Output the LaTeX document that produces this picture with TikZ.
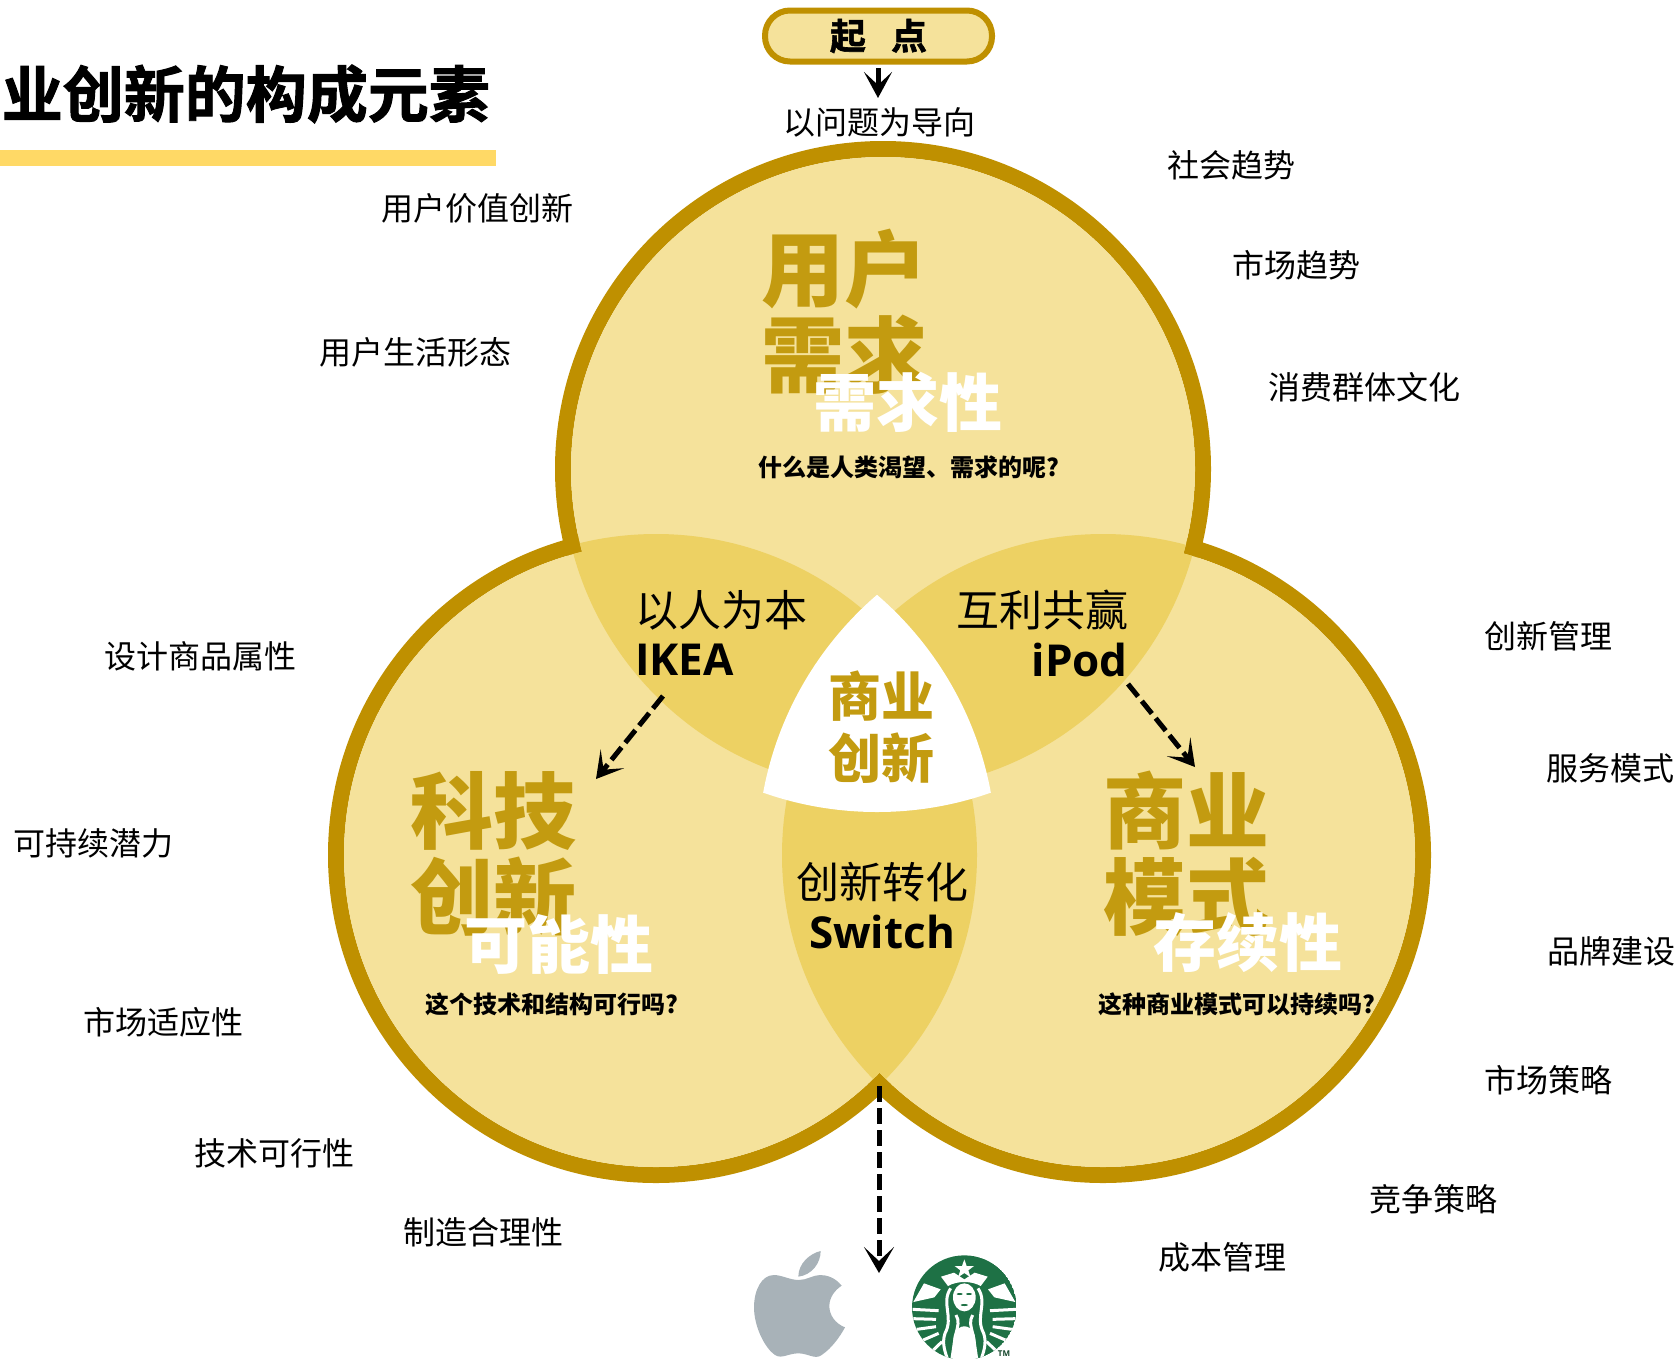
\documentclass[tikz,border=0pt]{standalone}
\usepackage{fontspec}
\usetikzlibrary{arrows.meta}
\setmainfont{Noto Sans CJK SC}
\newfontfamily\lat{Open Sans}
\newfontfamily\heavy[FakeBold=1.6]{Noto Sans CJK SC Bold}
\definecolor{ringc}{HTML}{BF9000}
\definecolor{fillc}{HTML}{F5E29B}
\definecolor{lensc}{HTML}{EDD163}
\definecolor{goldt}{HTML}{C39B10}
\definecolor{barc}{HTML}{FFD966}
\definecolor{applec}{HTML}{A8B2B8}
\definecolor{sbgreen}{HTML}{1E7145}
\newcommand{\fs}[1]{\fontsize{#1}{#1}\selectfont}
\newcommand{\sbhalf}{
  \fill[white] (640,246) -- (672,190) -- (722,208) -- (703,232) -- cycle;
  \draw[sbline] (752,205) .. controls (722,250) and (762,290) .. (735,340) .. controls (725,370) and (735,395) .. (745,425);
  \draw[sbline] (768,285) .. controls (790,320) and (745,350) .. (772,425);
  \draw[sbline] (638,268) -- (716,272);
  \draw[sbline] (640,296) -- (708,298);
  \draw[sbline] (650,328) -- (708,320);
  \draw[sbline] (670,360) -- (716,340);
  \draw[sbline] (695,395) -- (726,365);
}
\tikzset{
  lbl/.style={inner sep=0pt,font=\fs{32}},
  biggold/.style={inner sep=0pt,align=center,text=goldt,font=\bfseries\fontsize{83}{86}\selectfont},
  whitebig/.style={inner sep=0pt,text=white,font=\bfseries\fs{63}},
  captext/.style={inner sep=0pt,font=\bfseries\fs{24}},
  lenscn/.style={inner sep=0pt,font=\fs{43}},
  lenlat/.style={inner sep=0pt,font=\lat\bfseries\fs{44}},
  darrow/.style={line width=5pt,dash pattern=on 16pt off 6pt,-{Stealth[length=26pt,width=30pt,inset=14pt]}},
  sbline/.style={white,line width=3pt},
}
\begin{document}
\begin{tikzpicture}[x=1pt,y=-1pt]
\useasboundingbox (0,0) rectangle (1678,1358);
\clip (0,0) rectangle (1678,1358);
\coordinate (T) at (883,469);
\coordinate (L) at (656,855);
\coordinate (R) at (1103,855);
% title
\fill[barc] (0,150) rectangle (496,166);
\node[anchor=east,inner sep=0pt,font=\heavy\fs{61}] (title) at (490,94) {业创新的构成元素};
% circles
\draw[ringc,line width=16pt] (T) circle (320) (L) circle (320) (R) circle (320);
\fill[fillc] (T) circle (312) (L) circle (312) (R) circle (312);
% lenses
\begin{scope}
 \clip (T) circle (312) (L) circle (312);
 \clip (T) circle (321);
 \fill[lensc] (L) circle (321);
\end{scope}
\begin{scope}
 \clip (T) circle (312) (R) circle (312);
 \clip (T) circle (321);
 \fill[lensc] (R) circle (321);
\end{scope}
\begin{scope}
 \clip (L) circle (312) (R) circle (312);
 \clip (L) circle (321);
 \fill[lensc] (R) circle (321);
\end{scope}
% centre
\begin{scope}
 \clip (877,469) circle (343);
 \clip (653.5,855) circle (343);
 \fill[white] (1100.5,855) circle (343);
\end{scope}
% start pill
\node[draw=ringc,fill=fillc,line width=6pt,rounded corners=25pt,minimum width=227pt,minimum height=51pt,inner sep=0pt,font=\heavy\fs{36}] (start) at (878.5,36) {起\hspace{0.7em}点};
\node[lbl] (problem) at (879,122) {以问题为导向};
\coordinate (startarrow) at (878,68);
\coordinate (starttip) at (878,98);
\draw[line width=5pt,-{Stealth[length=26pt,width=28pt,inset=13pt]}] (startarrow) -- (starttip);
% big labels
\node[biggold] (n1) at (844,312) {用户\\需求};
\node[biggold] (n2) at (493,854) {科技\\创新};
\node[biggold] (n3) at (1186,854) {商业\\模式};
\node[whitebig] (w1) at (907.5,402) {需求性};
\node[whitebig] (w2) at (559,944) {可能性};
\node[whitebig] (w3) at (1248,943) {存续性};
\node[captext] (c1) at (908.5,467) {什么是人类渴望、需求的呢?};
\node[captext] (c2) at (552,1004) {这个技术和结构可行吗?};
\node[captext] (c3) at (1237,1004) {这种商业模式可以持续吗?};
% lens labels
\node[lenscn,anchor=west] (a1) at (635,610) {以人为本};
\node[lenlat,anchor=west] (a2) at (635,660) {IKEA};
\node[lenscn,anchor=east] (b1) at (1129,610) {互利共赢};
\node[lenlat,anchor=east] (b2) at (1128,660) {iPod};
\node[lenscn] (s1) at (882,882) {创新转化};
\node[lenlat] (s2) at (882,932) {Switch};
\node[inner sep=0pt,align=center,text=goldt,font=\bfseries\fontsize{53}{62}\selectfont] (core) at (881,727) {商业\\创新};
% dashed arrows
\coordinate (ka) at (663,696); \coordinate (kb) at (596,779);
\coordinate (pa) at (1128,684); \coordinate (pb) at (1195,767);
\coordinate (sa) at (879,1086); \coordinate (sb) at (879,1273);
\draw[darrow] (ka) -- (kb);
\draw[darrow] (pa) -- (pb);
\draw[darrow] (sa) -- (sb);
% side labels
\node[lbl] (l1) at (477,208) {用户价值创新};
\node[lbl] (l2) at (415,352) {用户生活形态};
\node[lbl] (l3) at (200,656) {设计商品属性};
\node[lbl] (l4) at (93,843) {可持续潜力};
\node[lbl] (l5) at (163,1022) {市场适应性};
\node[lbl] (l6) at (274,1153) {技术可行性};
\node[lbl] (l7) at (483,1232) {制造合理性};
\node[lbl] (r1) at (1231,165) {社会趋势};
\node[lbl] (r2) at (1296,265) {市场趋势};
\node[lbl] (r3) at (1364.5,387) {消费群体文化};
\node[lbl] (r4) at (1548.5,636) {创新管理};
\node[lbl] (r5) at (1610,768) {服务模式};
\node[lbl] (r6) at (1611,951) {品牌建设};
\node[lbl] (r7) at (1548.5,1080) {市场策略};
\node[lbl] (r8) at (1433,1199) {竞争策略};
\node[lbl] (r9) at (1222,1257) {成本管理};
% apple
\begin{scope}[shift={(700,1220)},scale=1/3]
 \fill[applec] (297,180) .. controls (270,180) and (245,165) .. (222,165) .. controls (185,165) and (162,210) .. (162,262) .. controls (162,320) and (195,385) .. (225,405) .. controls (245,418) and (265,400) .. (295,400) .. controls (325,400) and (345,420) .. (365,405) .. controls (395,385) and (420,350) .. (435,322) .. controls (405,310) and (388,285) .. (388,258) .. controls (388,232) and (405,210) .. (425,197) .. controls (405,172) and (380,165) .. (360,165) .. controls (340,165) and (320,180) .. (297,180) -- cycle;
 \fill[applec] (295,170) .. controls (295,130) and (330,100) .. (362,93) .. controls (362,130) and (335,165) .. (295,170) -- cycle;
 % starbucks
 \begin{scope}
  \clip (793,263) circle (157);
  \fill[sbgreen] (793,263) circle (157);
  \fill[white] (793,118) -- (800,138) -- (822,138) -- (805,151) -- (812,172) -- (793,159) -- (774,172) -- (781,151) -- (764,138) -- (786,138) -- cycle;
  \fill[white] (723,170) -- (762,158) -- (793,178) -- (824,158) -- (863,170) -- (842,198) .. controls (815,182) and (771,182) .. (744,198) -- cycle;
  \sbhalf
  \begin{scope}[shift={(1586,0)},xscale=-1]
   \sbhalf
  \end{scope}
  \fill[white] (793,232) ellipse (34 and 42);
  \fill[white] (762,345) .. controls (775,310) and (811,310) .. (824,345) -- (836,425) -- (750,425) -- cycle;
  \fill[sbgreen] (779,222) ellipse (9 and 3) (807,222) ellipse (9 and 3) (793,255) ellipse (11 and 3);
 \end{scope}
\end{scope}
\node[inner sep=0pt,text=sbgreen!60!black,font=\lat\bfseries\fs{8}] (tm) at (1004,1354) {TM};
\end{tikzpicture}
\end{document}
